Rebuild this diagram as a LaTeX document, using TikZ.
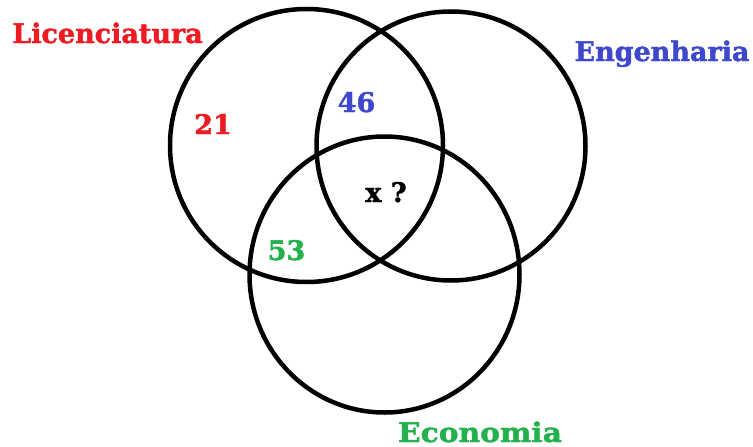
\documentclass[tikz,border=0pt]{standalone}
\usepackage{fontspec}
\setmainfont{DejaVu Serif}[BoldFeatures={FakeBold=1.5}]
\definecolor{lred}{HTML}{ED1C24}
\definecolor{lblue}{HTML}{3F48CC}
\definecolor{lgreen}{HTML}{22B14C}
\tikzset{
  setline/.style={draw=black, line width=4.5pt},
  lbl/.style={anchor=base, inner sep=0pt, font=\fontsize{27}{27}\selectfont\bfseries}
}
\begin{document}
\begin{tikzpicture}[x=1pt,y=-1pt]
\useasboundingbox (0,0) rectangle (753,447);
\fill[white] (0,0) rectangle (753,447);
\draw[setline] (306.5,145.5) circle [radius=136.5];
\draw[setline] (451,146) circle [radius=134.5];
\draw[setline] (384.5,274.5) ellipse [x radius=135, y radius=138];
\node[lbl, text=lred] (lic) at (107.5,43) {Licenciatura};
\node[lbl, text=lblue] (eng) at (662,61) {Engenharia};
\node[lbl, text=lgreen, xscale=1.1] (eco) at (480,442) {Economia};
\node[lbl, text=lred] (n21) at (213,134) {21};
\node[lbl, text=lblue] (n46) at (356.5,112) {46};
\node[lbl, text=lgreen] (n53) at (286.5,260) {53};
\node[lbl, text=black] (nx) at (386,202) {x ?};
\end{tikzpicture}
\end{document}
